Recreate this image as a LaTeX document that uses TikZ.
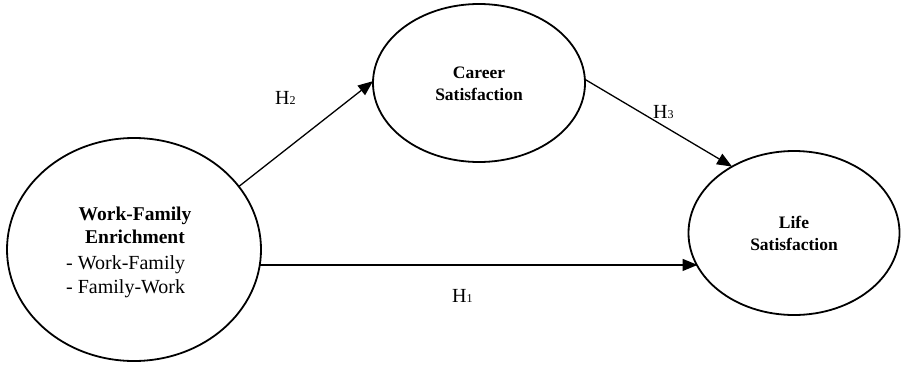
\documentclass[tikz,border=0pt]{standalone}
\usepackage{fontspec}
\setmainfont{Liberation Serif}
\usetikzlibrary{shapes.geometric,arrows.meta}
\tikzset{
  oval/.style={draw=black,line width=1.8pt,ellipse,inner sep=0pt,outer sep=0pt},
  link/.style={line width=1.3pt,-{Triangle[length=15pt,width=12pt]}},
  bigtxt/.style={font=\fontsize{20pt}{22pt}\selectfont,inner sep=0pt},
  bigbold/.style={font=\fontsize{19.5pt}{22pt}\selectfont\bfseries,inner sep=0pt,anchor=base},
  midtxt/.style={font=\fontsize{17.5pt}{20pt}\selectfont\bfseries,inner sep=0pt,anchor=base},
  hlab/.style={font=\fontsize{20pt}{22pt}\selectfont,inner sep=0pt,anchor=base west}
}
\newcommand{\hsub}[1]{{\fontsize{12pt}{12pt}\selectfont #1}}
\begin{document}
\begin{tikzpicture}[x=1pt,y=-1pt]
\useasboundingbox (0,0) rectangle (901,364);
% ellipses
\node[oval,minimum width=254pt,minimum height=223pt] (wf) at (134,249.5) {};
\node[oval,minimum width=212pt,minimum height=158pt] (cs) at (479,83) {};
\node[oval,minimum width=211pt,minimum height=164pt] (lf) at (794,233) {};
% texts
\node[bigbold] (wft1) at (135,220) {Work-Family};
\node[bigbold] (wft2) at (135,243) {Enrichment};
\node[bigtxt,anchor=base west] (wft3) at (66,269) {- Work-Family};
\node[bigtxt,anchor=base west] (wft4) at (66,293) {- Family-Work};
\node[midtxt] (cst1) at (479,78) {Career};
\node[midtxt] (cst2) at (479,100) {Satisfaction};
\node[midtxt] (lft1) at (794,228) {Life};
\node[midtxt] (lft2) at (794,250) {Satisfaction};
% connectors
\draw[link] (wf.31.3) -- (cs.179.5);
\draw[link] (cs.2.7) -- (lf.133.3);
\draw[link] (wf.-7.8) -- (wf.-7.8 -| lf.199.7);
% labels
\node[hlab] (h2) at (275,104) {H\hsub{2}};
\node[hlab] (h3) at (653,118) {H\hsub{3}};
\node[hlab] (h1) at (452,302) {H\hsub{1}};
\end{tikzpicture}
\end{document}
